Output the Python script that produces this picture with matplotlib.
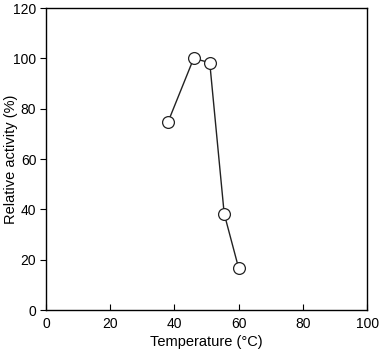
import matplotlib
matplotlib.use("Agg")
import matplotlib.pyplot as plt

temperature = [38, 46, 51, 55.5, 60]
relative_activity = [74.7, 100, 98.3, 38.3, 16.7]
x_ticks = [0, 20, 40, 60, 80, 100]
y_ticks = [0, 20, 40, 60, 80, 100, 120]

plt.rcParams['font.family'] = ['Liberation Sans', 'DejaVu Sans']

fig = plt.figure(figsize=(3.8, 3.5), dpi=100)
ax = fig.add_axes([0.121, 0.114, 0.845, 0.863])
ax.plot(temperature, relative_activity, color='#222222', linewidth=1.0,
        marker='o', markersize=8.5, markerfacecolor='white',
        markeredgecolor='#222222', markeredgewidth=0.9)
ax.set_xlim(0, 100)
ax.set_ylim(0, 120)
ax.set_xticks(x_ticks)
ax.set_yticks(y_ticks)
ax.tick_params(axis='x', direction='in', length=4, labelsize=10, pad=5)
ax.tick_params(axis='y', direction='out', length=4, labelsize=10, pad=3)
for s in ax.spines.values():
    s.set_linewidth(1.0)
ax.set_xlabel('Temperature (°C)', fontsize=10.5, labelpad=3)
ax.set_ylabel('Relative activity (%)', fontsize=10.5)
ax.yaxis.set_label_coords(-0.088, 0.5)
fig.savefig('out.png', dpi=100)
